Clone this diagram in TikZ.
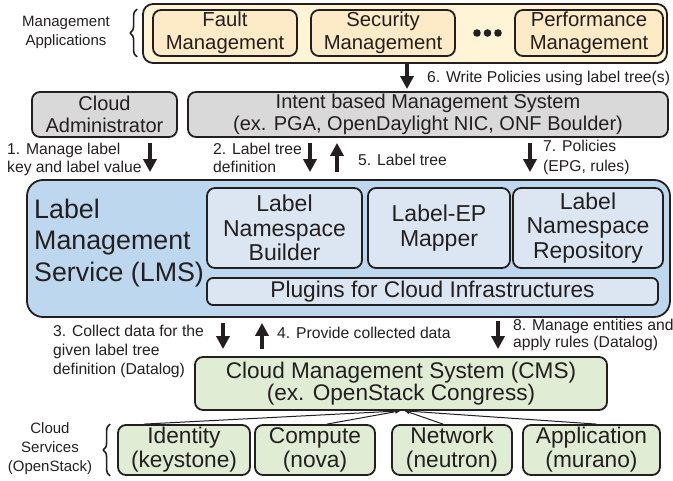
\documentclass[tikz,border=0pt]{standalone}
\usepackage{fontspec}
\setmainfont{Liberation Sans}
\usepackage{xcolor}
\usetikzlibrary{arrows.meta,decorations.pathreplacing}

\definecolor{ink}{HTML}{231F20}
\definecolor{appout}{HTML}{FFF5D6}
\definecolor{appin}{HTML}{FCEBC6}
\definecolor{greybox}{HTML}{D9D9D9}
\definecolor{lmsblue}{HTML}{BDD7EE}
\definecolor{lmsin}{HTML}{DCE6F2}
\definecolor{cmsgreen}{HTML}{E0EDD4}

\begin{document}
\begin{tikzpicture}[x=1pt,y=-1pt,line join=round]
    \tikzset{
        box/.style={draw=ink,line width=1.8pt,rounded corners=8pt,inner sep=0pt,align=center,text=ink},
        appbox/.style={box,fill=appin,minimum width=144pt,minimum height=46pt,font=\fontsize{20.3}{22.5}\selectfont},
        greyb/.style={box,fill=greybox,minimum height=45pt,font=\fontsize{20}{22.5}\selectfont},
        lmsbox/.style={box,fill=lmsin,minimum height=80pt,font=\fontsize{23}{24.5}\selectfont},
        svcbox/.style={box,fill=cmsgreen,minimum width=120pt,minimum height=50pt,font=\fontsize{22.7}{24}\selectfont},
        note/.style={inner sep=0pt,align=left,anchor=west,text=ink,font=\fontsize{15.7}{19}\selectfont},
        side/.style={inner sep=0pt,align=center,text=ink,font=\fontsize{15}{19}\selectfont},
        bigarrow/.style={draw=ink,line width=3.5pt,-{Triangle[length=13pt,width=13pt]}},
        feed/.style={draw=ink,line width=1pt,-{Stealth[length=5pt,width=4pt]}},
        curly/.style={draw=ink,line width=1.6pt,decorate,decoration={brace,amplitude=7pt}}
    }
    \useasboundingbox (0,0) rectangle (673,481);

    % management applications
    \node[box,fill=appout,rounded corners=10pt,minimum width=524pt,minimum height=59pt] (apps) at (405,33.5) {};
    \node[appbox] (fault) at (225,33) {Fault\\Management};
    \node[appbox] (security) at (383,33) {Security\\Management};
    \node[appbox,minimum width=148pt] (perf) at (589,33) {Performance\\Management};
    \foreach \x in {477,487.5,498}
        \fill[ink] (\x,33) circle (3.8pt);
    \node[side] (apptag) at (66,32) {Management\\Applications};
    \draw[curly] ([xshift=-15pt]fault.south west) -- ([xshift=-15pt]fault.north west);

    % intent layer
    \node[greyb,minimum width=145pt] (admin) at (104.5,114.5) {Cloud\\Administrator};
    \node[greyb,minimum width=480pt] (intent) at (428,114.5) {Intent based Management System\\(ex. PGA, OpenDaylight NIC, ONF Boulder)};

    % label management service
    \node[box,fill=lmsblue,rounded corners=16pt,minimum width=643pt,minimum height=137pt] (lms) at (348.5,248.5) {};
    \node[inner sep=0pt,align=left,anchor=west,text=ink,font=\fontsize{26.8}{31.5}\selectfont] (lmstitle) at (34,243) {Label\\Management\\Service (LMS)};
    \node[lmsbox,minimum width=155pt] (builder) at (284.5,228) {Label\\Namespace\\Builder};
    \node[lmsbox,minimum width=142pt] (mapper) at (439,228) {Label-EP\\Mapper};
    \node[lmsbox,minimum width=150pt] (repo) at (588,228) {Label\\Namespace\\Repository};
    \node[box,fill=lmsin,rounded corners=6pt,minimum width=451pt,minimum height=27pt,font=\fontsize{22.7}{24}\selectfont] (plugins) at (432.5,291.5) {Plugins for Cloud Infrastructures};

    % cloud management system and services
    \node[box,fill=cmsgreen,minimum width=412pt,minimum height=53pt,font=\fontsize{22.6}{22.5}\selectfont] (cms) at (401,383.5) {Cloud Management System (CMS)\\(ex. OpenStack Congress)};
    \node[svcbox,minimum width=132pt] (identity) at (184,450) {Identity\\(keystone)};
    \node[svcbox] (compute) at (315,450) {Compute\\(nova)};
    \node[svcbox] (network) at (452,450) {Network\\(neutron)};
    \node[svcbox,minimum width=137pt] (appl) at (591.5,450) {Application\\(murano)};
    \node[side] (svctag) at (50,449) {Cloud\\Services\\(OpenStack)};
    \draw[curly] ([xshift=-7pt]identity.south west) -- ([xshift=-7pt]identity.north west);

    \draw[feed] ([xshift=-40pt]identity.north) -- ([xshift=-1pt]cms.south);
    \draw[feed] ([xshift=12pt]compute.north) -- ([xshift=-1pt]cms.south);
    \draw[feed] ([xshift=-9pt]network.north) -- ([xshift=4pt]cms.south);
    \draw[feed] ([xshift=5pt]appl.north) -- ([xshift=4pt]cms.south);

    % numbered steps
    \draw[bigarrow,shorten >=2pt] (apps.south -| 407,0) -- (intent.north -| 407,0);
    \draw[bigarrow,shorten <=5pt,shorten >=7pt] (admin.south -| 150,0) -- (lms.north -| 150,0);
    \draw[bigarrow,shorten <=5pt,shorten >=7pt] (intent.south -| 310,0) -- (lms.north -| 310,0);
    \draw[bigarrow,shorten <=7pt,shorten >=5pt] (lms.north -| 337,0) -- (intent.south -| 337,0);
    \draw[bigarrow,shorten <=5pt,shorten >=7pt] (intent.south -| 530,0) -- (lms.north -| 530,0);
    \draw[bigarrow,shorten <=5pt,shorten >=7pt] (lms.south -| 223,0) -- (cms.north -| 223,0);
    \draw[bigarrow,shorten <=7pt,shorten >=5pt] (cms.north -| 262,0) -- (lms.south -| 262,0);
    \draw[bigarrow,shorten <=3pt,shorten >=7pt] (lms.south -| 498,0) -- (cms.north -| 498,0);

    \node[note] (step6) at (427,78) {6. Write Policies using label tree(s)};
    \node[note,font=\fontsize{15.7}{18}\selectfont] (step1) at (7,159) {1. Manage label\\key and label value};
    \node[note,font=\fontsize{15.7}{17.5}\selectfont] (step2) at (213,158) {2. Label tree\\definition};
    \node[note] (step5) at (358,160) {5. Label tree};
    \node[note,font=\fontsize{15.7}{20}\selectfont] (step7) at (543,157) {7. Policies\\(EPG, rules)};
    \node[note] (step3) at (53,351) {3. Collect data for the\\given label tree\\definition (Datalog)};
    \node[note] (step4) at (277,333) {4. Provide collected data};
    \node[note,font=\fontsize{15.7}{17.5}\selectfont] (step8) at (513,335) {8. Manage entities and\\apply rules (Datalog)};
\end{tikzpicture}
\end{document}
